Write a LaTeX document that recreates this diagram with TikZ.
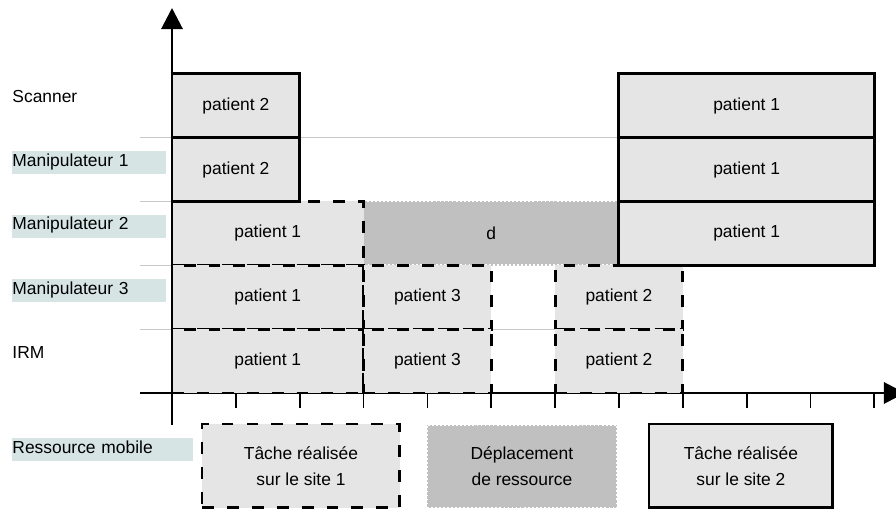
\documentclass[tikz,border=0pt]{standalone}
\usepackage{fontspec}
\setmainfont{Liberation Sans}
\usetikzlibrary{arrows.meta}

\definecolor{cellgray}{HTML}{E5E5E5}
\definecolor{movegray}{HTML}{C0C0C0}
\definecolor{labelbg}{HTML}{D6E4E4}
\definecolor{rowgray}{HTML}{C8C8C8}

\begin{document}
\begin{tikzpicture}[
    font=\fontsize{7.76}{11.6}\selectfont,
    axis/.style={line width=1.3pt, -{Triangle[length=3.3mm, width=3.3mm]}},
    tick/.style={line width=0.8pt},
    rowline/.style={draw=rowgray, line width=0.45pt},
    cell/.style={rectangle, fill=cellgray, line width=1.3pt, inner sep=0pt},
    site1/.style={cell, draw, dash pattern=on 5.3pt off 5.8pt},
    site2/.style={cell, draw},
    move/.style={rectangle, fill=movegray, draw=white, densely dotted, line width=0.8pt, inner sep=0pt},
    res/.style={anchor=base west, inner sep=0pt, text height=6.7pt, text depth=3.6pt, align=left},
    resbg/.style={res, fill=labelbg}
]

\useasboundingbox (-2.694,-1.848) rectangle (11.339,6.155);

% -------- Y levels (baselines of resource names) --------
\def\xlab{-2.506}
\def\yscan{4.557}
\def\ymanA{3.555}
\def\ymanB{2.553}
\def\ymanC{1.550}
\def\yirm{0.548}
\def\ymob{-0.940}

% -------- Resources --------
\node[res, text width=2.41cm] (scan) at (\xlab,\yscan) {Scanner};
\node[resbg, text width=2.41cm] (manA) at (\xlab,\ymanA) {Manipulateur 1};
\node[resbg, text width=2.41cm] (manB) at (\xlab,\ymanB) {Manipulateur 2};
\node[resbg, text width=2.41cm] (manC) at (\xlab,\ymanC) {Manipulateur 3};
\node[res, text width=2.41cm] (irm) at (\xlab,\yirm) {IRM};
\node[resbg, text width=2.835cm] (mob) at (\xlab,\ymob) {Ressource mobile};

% -------- Row separators --------
\foreach \y in {1,2,3,4} {
    \coordinate (rl\y) at (-0.5,\y);
    \coordinate (rr\y) at (7,\y);
    \draw[rowline] (rl\y) -- (rr\y);
}

% -------- Time axis --------
\coordinate (xbeg) at (-0.5,0);
\coordinate (xend) at (11.48,0);
\draw[axis] (xbeg) -- (xend);

\foreach \k in {1,...,11} {
    \draw[tick] (\k,0) -- (\k,-0.23);
}

% -------- Moving the resource --------
\node[move, minimum width=4cm, minimum height=1cm] (d) at (5,2.5) {d};

% -------- Site 1 (dashed) --------
\node[site1, minimum width=3cm, minimum height=1cm] (bp1) at (1.5,2.5) {patient 1};
\node[site1, minimum width=3cm, minimum height=1cm] (cp1) at (1.5,1.5) {patient 1};
\node[site1, minimum width=3cm, minimum height=1cm] (ip1) at (1.5,0.5) {patient 1};

\node[site1, minimum width=2cm, minimum height=1cm] (cp3) at (4,1.5) {patient 3};
\node[site1, minimum width=2cm, minimum height=1cm] (ip3) at (4,0.5) {patient 3};

\node[site1, minimum width=2cm, minimum height=1cm] (cp2) at (7,1.5) {patient 2};
\node[site1, minimum width=2cm, minimum height=1cm] (ip2) at (7,0.5) {patient 2};

% -------- Site 2 (solid) --------
\node[site2, minimum width=2cm, minimum height=1cm] (sp2) at (1,4.5) {patient 2};
\node[site2, minimum width=2cm, minimum height=1cm] (ap2) at (1,3.5) {patient 2};

\node[site2, minimum width=4cm, minimum height=1cm] (sp1) at (9,4.5) {patient 1};
\node[site2, minimum width=4cm, minimum height=1cm] (ap1) at (9,3.5) {patient 1};
\node[site2, minimum width=4cm, minimum height=1cm] (bq1) at (9,2.5) {patient 1};

% -------- Resource axis --------
\coordinate (ybeg) at (0,-0.5);
\coordinate (yend) at (0,6.03);
\draw[axis] (ybeg) -- (yend);

% -------- Legend --------
\node[site1, minimum width=3.10cm, minimum height=1.315cm, align=center] (leg1) at (2.02,-1.143) {Tâche réalisée\\sur le site 1};
\node[move, minimum width=2.98cm, minimum height=1.30cm, align=center] (legd) at (5.48,-1.15) {Déplacement\\de ressource};
\node[site2, minimum width=2.88cm, minimum height=1.315cm, align=center] (leg2) at (8.91,-1.143) {Tâche réalisée\\sur le site 2};

\end{tikzpicture}
\end{document}
